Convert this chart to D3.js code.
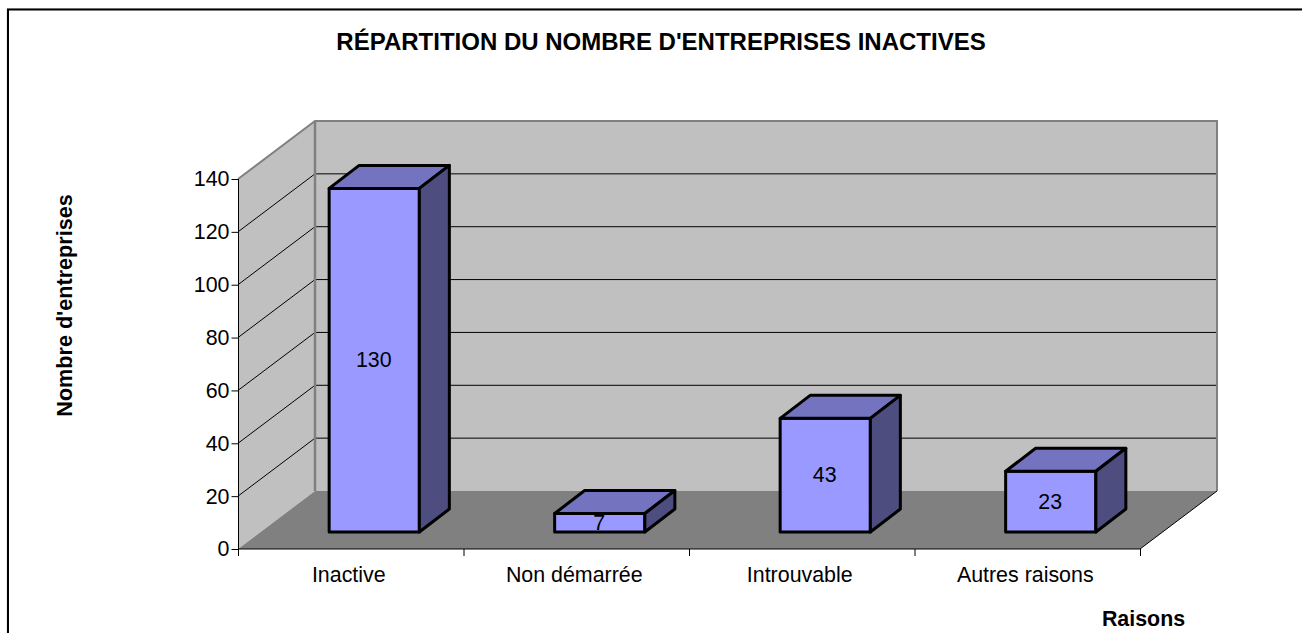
<!DOCTYPE html>
<html><head><meta charset="utf-8">
<script src="https://cdn.jsdelivr.net/npm/d3@7"></script>
<style>html,body{margin:0;padding:0;background:#fff}svg{display:block}text{font-family:"Liberation Sans",Arial,sans-serif;fill:#000}</style>
</head><body><script>
const categories = ["Inactive","Non démarrée","Introuvable","Autres raisons"];
const values = [130,7,43,23];
const yTicks = [0,20,40,60,80,100,120,140];
const titleText = "RÉPARTITION DU NOMBRE D'ENTREPRISES INACTIVES";
const yTitle = "Nombre d'entreprises";
const xTitle = "Raisons";

const W=1302,H=633;
const svg=d3.select("body").append("svg").attr("width",W).attr("height",H);
const x0=238,x1=1140,y0=549,yTop=179,DX=77,DY=58;
const y=d3.scaleLinear().domain([0,140]).range([y0,yTop]);
const x=d3.scaleBand().domain(categories).range([x0,x1]);
const line=d3.line();
const FS=21.4;

// page frame: top and left edges only
svg.append("path").attr("d","M7,633V8.5H1302").attr("fill","none").attr("stroke","#d8d8d8").attr("stroke-width",1);
svg.append("path").attr("d","M8,633V9.5H1302").attr("fill","none").attr("stroke","#000").attr("stroke-width",2);

// walls
svg.append("polygon").attr("points",[[x0,y0],[x0+DX,y0-DY],[x0+DX,yTop-DY],[x0,yTop]].join(" ")).attr("fill","#c0c0c0");
svg.append("rect").attr("x",x0+DX).attr("y",yTop-DY).attr("width",x1-x0).attr("height",y0-yTop).attr("fill","#c0c0c0");
svg.append("polygon").attr("points",[[x0,y0],[x1,y0],[x1+DX,y0-DY],[x0+DX,y0-DY]].join(" ")).attr("fill","#808080");

// gridlines
yTicks.slice(1,-1).forEach(v=>{
  svg.append("path").attr("d",line([[x0,y(v)],[x0+DX,y(v)-DY],[x1+DX,y(v)-DY]])).attr("fill","none").attr("stroke","#000").attr("stroke-width",1);
});
// wall borders
svg.append("path").attr("d",line([[x0,yTop],[x0+DX,yTop-DY],[x1+DX,yTop-DY],[x1+DX,y0-DY]])).attr("fill","none").attr("stroke","#808080").attr("stroke-width",2);
svg.append("path").attr("d",line([[x0+DX,yTop-DY],[x0+DX,y0-DY]])).attr("fill","none").attr("stroke","#808080").attr("stroke-width",2.5);
svg.append("path").attr("d",line([[x1+DX,y0-DY],[x1,y0]])).attr("fill","none").attr("stroke","#000").attr("stroke-width",1);

// axes
const gy=svg.append("g").attr("transform",`translate(${x0+0.5},0)`).call(d3.axisLeft(y).tickValues(yTicks).tickSize(7).tickPadding(2).tickFormat(d3.format("d")));
gy.select(".domain").attr("d",`M0,${yTop}V${y0+7}`);
gy.selectAll("text").attr("font-size",FS).attr("font-family",null);
const gx=svg.append("g").attr("transform",`translate(0,${y0})`).call(d3.axisBottom(x).tickSize(0).tickPadding(18));
gx.select(".domain").attr("d",`M${x0},0H${x1}`);
gx.selectAll("text").attr("font-size",FS).attr("font-family",null).attr("dx",-2);
svg.append("g").selectAll("path").data(x.domain().map(c=>x(c)).concat([x1])).join("path")
  .attr("d",d=>`M${d+0.5},${y0}v7`).attr("stroke","#000");

// bars
const inset=x.bandwidth()*0.3,bw=x.bandwidth()*0.4;
const fx=23,fy=17,bdx=30,bdy=23;
const bars=svg.append("g").selectAll("g").data(categories.map((c,i)=>({c,v:values[i]}))).join("g");
const stroke={stroke:"#000","stroke-width":3,"stroke-linejoin":"round"};
function face(sel,fill,pts){const p=sel.append("polygon").attr("fill",fill).attr("points",pts);Object.entries(stroke).forEach(([k,v])=>p.attr(k,v));}
bars.each(function(d){
  const g=d3.select(this);
  const l=x(d.c)+inset+fx+0.5,r=l+bw,b=y0-fy,t=y(d.v)-fy;
  face(g,"#9999ff",[[l,t],[r,t],[r,b],[l,b]].join(" "));
  g.append("text").attr("x",(l+r)/2-0.5).attr("y",(t+b)/2-0.5).attr("dy","0.36em").attr("text-anchor","middle").attr("font-size",FS).text(d.v);
  face(g,"#7373bf",[[l,t],[l+bdx,t-bdy],[r+bdx,t-bdy],[r,t]].join(" "));
  face(g,"#4d4d80",[[r,t],[r+bdx,t-bdy],[r+bdx,b-bdy],[r,b]].join(" "));
});

svg.append("text").attr("x",661).attr("y",50).attr("text-anchor","middle").attr("font-size",24).attr("font-weight","bold").text(titleText);
svg.append("text").attr("transform","translate(72,305.5) rotate(-90)").attr("text-anchor","middle").attr("font-size",21.6).attr("font-weight","bold").text(yTitle);
svg.append("text").attr("x",1143.5).attr("y",626).attr("text-anchor","middle").attr("font-size",FS).attr("font-weight","bold").text(xTitle);
</script></body></html>
